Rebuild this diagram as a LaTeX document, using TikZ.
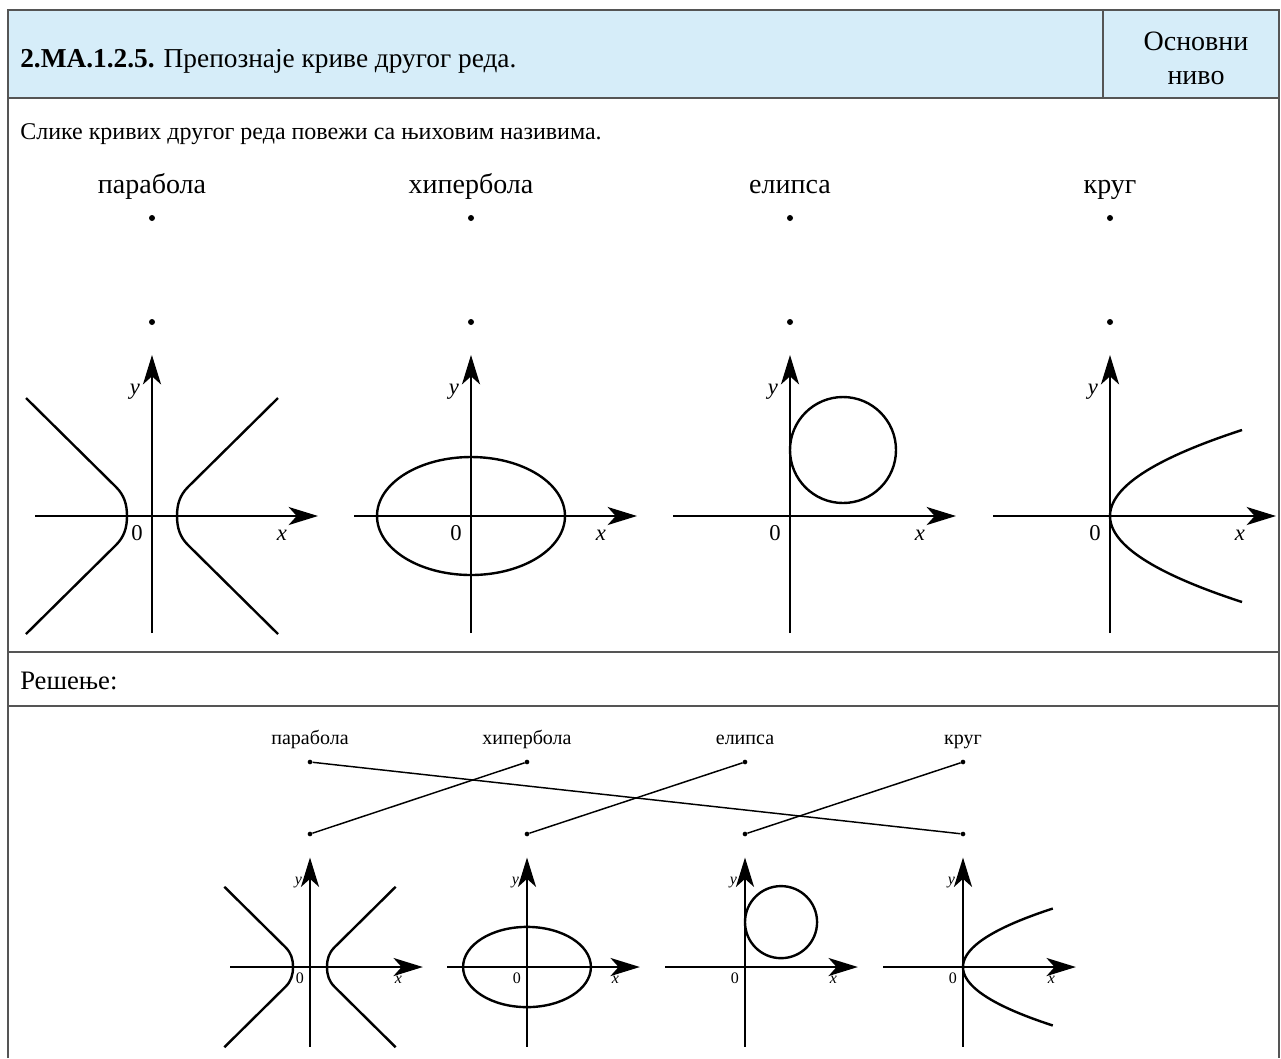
\documentclass[tikz,border=0pt]{standalone}
\usepackage{fontspec}
\setmainfont{Liberation Serif}
\usetikzlibrary{arrows.meta}
\definecolor{hdrfill}{RGB}{214,237,249}
\definecolor{rule}{RGB}{85,85,85}
\tikzset{
  axisline/.style={line width=1.9pt, -{Stealth[length=22pt,width=13.5pt,inset=6pt]}},
  curve/.style={line width=1.8pt},
  tablerule/.style={draw=rule, line width=1.3pt},
  dotnode/.style={circle, fill=black, inner sep=0pt, minimum size=#1},
  link/.style={line width=1.1pt},
  lbl/.style={inner sep=0pt}
}
\newcommand\conicpanel[6]{%
  \begin{scope}[shift={(#2,#3)}, scale=#4]
    \draw[axisline] (-117,0) -- (166,0);
    \draw[axisline] (0,117) -- (0,-161);
    #6
    \node[lbl, font=\fontsize{#5}{#5}\selectfont\itshape] (#1y) at (-17,-124) {y};
    \node[lbl, font=\fontsize{#5}{#5}\selectfont] (#1z) at (-15,17) {0};
    \node[lbl, font=\fontsize{#5}{#5}\selectfont\itshape] (#1x) at (130,19) {x};
  \end{scope}}
\newcommand\hypcurve{%
  \draw[curve, line join=round] (-126,-118) -- (-36,-29) .. controls (-28,-21) and (-25,-12) .. (-25,0)
        .. controls (-25,12) and (-28,21) .. (-36,29) -- (-126,118);
  \draw[curve, line join=round] (126,-118) -- (36,-29) .. controls (28,-21) and (25,-12) .. (25,0)
        .. controls (25,12) and (28,21) .. (36,29) -- (126,118);}
\newcommand\ellcurve{\draw[curve] (0,0) ellipse [x radius=94, y radius=59];}
\newcommand\circcurve{\draw[curve] (53,-66) circle [radius=53];}
\newcommand\parcurve{\draw[curve] plot[domain=-86:86, samples=60, smooth] ({132*(\x/86)^2},{\x});}
\begin{document}
\begin{tikzpicture}[x=0.75pt,y=-0.75pt]
\useasboundingbox (0,0) rectangle (1281,1058);
% table
\fill[hdrfill] (8,10) rectangle (1279,98);
\draw[tablerule] (8,1058) -- (8,10) -- (1279,10) -- (1279,1058);
\draw[tablerule] (1103,10) -- (1103,98);
\draw[draw=rule, line width=2pt] (8,98) -- (1279,98);
\draw[tablerule] (8,652) -- (1279,652);
\draw[tablerule] (8,706) -- (1279,706);
% header texts
\node[lbl, anchor=base west, font=\fontsize{20.5}{20.5}\selectfont] (title) at (20,67) {\textbf{2.MA.1.2.5.} Препознаје криве другог реда.};
\node[lbl, anchor=base, font=\fontsize{21}{21}\selectfont] (lev1) at (1196,50) {Основни};
\node[lbl, anchor=base, font=\fontsize{21}{21}\selectfont] (lev2) at (1196,84) {ниво};
\node[lbl, anchor=base west, font=\fontsize{18}{18}\selectfont] (task) at (20,139) {Слике кривих другог реда повежи са њиховим називима.};
\node[lbl, anchor=base west, font=\fontsize{20}{20}\selectfont] (sol) at (20,689) {Решење:};
% top labels and dots
\foreach \nm/\xx/\tx in {a/152/парабола, b/471/хипербола, c/790/елипса, d/1110/круг}{
  \node[lbl, anchor=base, font=\fontsize{21}{21}\selectfont] (t\nm) at (\xx,193) {\tx};
  \node[dotnode=4.5pt] (tu\nm) at (\xx,218) {};
  \node[dotnode=4.5pt] (tl\nm) at (\xx,322) {};
}
\conicpanel{g1}{152}{516}{1}{17}{\hypcurve}
\conicpanel{g2}{471}{516}{1}{17}{\ellcurve}
\conicpanel{g3}{790}{516}{1}{17}{\circcurve}
\conicpanel{g4}{1110}{516}{1}{17}{\parcurve}
% solution
\foreach \nm/\xx/\tx in {a/310/парабола, b/527/хипербола, c/745/елипса, d/963/круг}{
  \node[lbl, anchor=base, font=\fontsize{15}{15}\selectfont] (s\nm) at (\xx,744) {\tx};
  \node[dotnode=3.5pt] (su\nm) at (\xx,762) {};
  \node[dotnode=3.5pt] (sl\nm) at (\xx,834) {};
}
\draw[link] (sua) -- (sld);
\draw[link] (sub) -- (sla);
\draw[link] (suc) -- (slb);
\draw[link] (sud) -- (slc);
\conicpanel{h1}{310}{967}{0.68}{12}{\hypcurve}
\conicpanel{h2}{527}{967}{0.68}{12}{\ellcurve}
\conicpanel{h3}{745}{967}{0.68}{12}{\circcurve}
\conicpanel{h4}{963}{967}{0.68}{12}{\parcurve}
\end{tikzpicture}
\end{document}
